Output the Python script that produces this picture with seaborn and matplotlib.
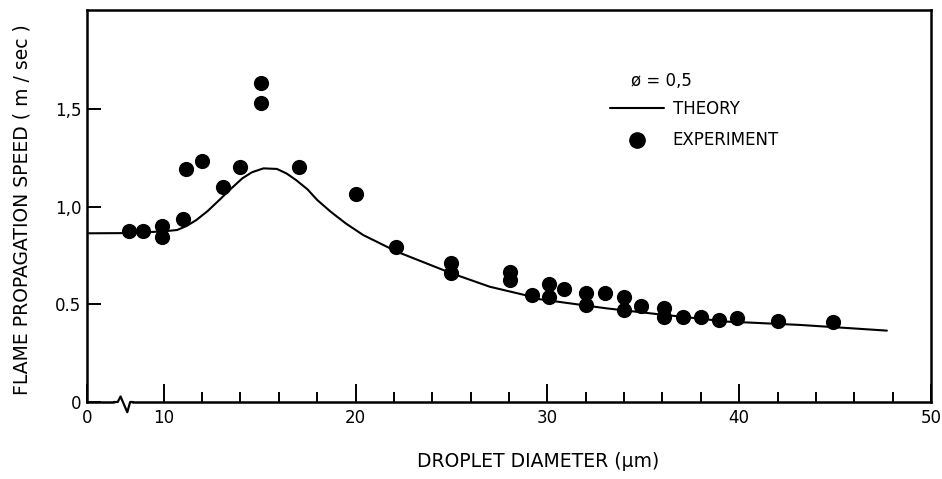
import matplotlib
matplotlib.use("Agg")
import matplotlib.pyplot as plt
import matplotlib.transforms as mtransforms
from matplotlib.lines import Line2D
import seaborn as sns
import pandas as pd

# Theory curve: flame propagation speed vs droplet diameter
theory_d = [6, 8, 9, 10, 10.7, 11.2, 11.7, 12.3, 12.9, 13.5, 14.1, 14.6, 15.2,
            15.9, 16.4, 16.9, 17.5, 18.0, 18.7, 19.5, 20.4, 22.15, 25.0, 27.0,
            28.8, 29.6, 33.1, 35.7, 39.4, 40.6, 43.2, 47.7]
theory_s = [0.865, 0.866, 0.87, 0.875, 0.882, 0.903, 0.933, 0.98, 1.036, 1.093,
            1.147, 1.178, 1.198, 1.195, 1.172, 1.138, 1.09, 1.036, 0.976, 0.915,
            0.856, 0.771, 0.66, 0.591, 0.549, 0.527, 0.48, 0.451, 0.412, 0.407,
            0.395, 0.366]

# Experimental measurements
exp_d = [8.2, 8.9, 9.9, 9.9, 11.0, 11.15, 12.0, 13.07, 14.0, 15.07, 15.07, 17.07,
         20.03, 22.1, 25.0, 25.0, 28.03, 28.03, 29.2, 30.07, 30.07, 30.85,
         32.04, 32.04, 33.0, 33.99, 33.99, 34.86, 36.1, 36.1, 37.09, 38.03,
         38.95, 39.9, 42.0, 44.9]
exp_s = [0.878, 0.878, 0.904, 0.848, 0.937, 1.195, 1.236, 1.104, 1.203, 1.634,
         1.532, 1.207, 1.065, 0.797, 0.711, 0.663, 0.668, 0.626, 0.549, 0.605,
         0.536, 0.578, 0.557, 0.497, 0.561, 0.537, 0.472, 0.492, 0.480, 0.437,
         0.434, 0.434, 0.421, 0.429, 0.417, 0.412]

x_ticks = [6, 10, 20, 30, 40, 50]
x_tick_labels = ["0", "10", "20", "30", "40", "50"]
x_minor = [12, 14, 16, 18, 22, 24, 26, 28, 32, 34, 36, 38, 42, 44, 46, 48]
y_ticks = [0, 0.5, 1.0, 1.5]
y_tick_labels = ["0", "0.5", "1,0", "1,5"]

sns.set_theme(style="ticks")
plt.rcParams["font.family"] = ["DejaVu Sans"]
plt.rcParams.update({"text.color": "black", "axes.labelcolor": "black",
                     "xtick.color": "black", "ytick.color": "black"})

fig = plt.figure(figsize=(9.42, 4.79), dpi=100)
ax = fig.add_axes([87 / 942, 1 - 402 / 479, 844 / 942, 392 / 479])

theory = pd.DataFrame({"d": theory_d, "s": theory_s})
exp = pd.DataFrame({"d": exp_d, "s": exp_s})

sns.lineplot(data=theory, x="d", y="s", ax=ax, color="black", linewidth=1.5,
             legend=False)
sns.scatterplot(data=exp, x="d", y="s", ax=ax, color="black", s=120,
                edgecolor="black", linewidth=0, legend=False, zorder=3)

ax.set_xlim(6, 50)
ax.set_ylim(0, 2.01)

ax.set_xticks(x_ticks)
ax.set_xticklabels(x_tick_labels)
ax.set_xticks(x_minor, minor=True)
ax.set_yticks(y_ticks)
ax.set_yticklabels(y_tick_labels)

ax.tick_params(axis="x", which="major", direction="in", length=13, width=1.4,
               labelsize=12, pad=5)
ax.tick_params(axis="x", which="minor", direction="in", length=7, width=1.4)
ax.tick_params(axis="y", which="major", direction="in", length=10, width=1.4,
               labelsize=12, pad=4)
ax.tick_params(axis="y", which="minor", left=False)

for sp in ax.spines.values():
    sp.set_linewidth(1.8)
    sp.set_color("black")

ax.set_xlabel("DROPLET DIAMETER (μm)", fontsize=13.5, labelpad=0)
ax.set_ylabel("FLAME PROPAGATION SPEED ( m / sec )", fontsize=13.5, labelpad=0)
ax.xaxis.set_label_coords(0.534, -0.128)
ax.yaxis.set_label_coords(-0.066, 0.49)

# Axis break mark on the diameter axis
blend = mtransforms.blended_transform_factory(ax.transData, ax.transAxes)
ax.plot([7.5, 8.3], [0, 0], color="white", linewidth=3, transform=blend,
        clip_on=False, zorder=4)
ax.plot([7.4, 7.6, 7.75, 8.1, 8.25, 8.4], [0, 0, 0.014, -0.026, 0, 0],
        color="black", linewidth=1.6, transform=blend, clip_on=False, zorder=5)

# Legend
handles = [
    Line2D([], [], color="black", linewidth=1.5),
    Line2D([], [], color="black", marker="o", linestyle="none", markersize=11),
]
leg = ax.legend(handles, ["THEORY", "EXPERIMENT"], loc="upper left",
                bbox_to_anchor=(0.62, 0.77), frameon=False, fontsize=12,
                handlelength=3.2, handletextpad=0.55, labelspacing=0.8,
                borderpad=0, borderaxespad=0)
ax.text(0.645, 0.819, "ø = 0,5", transform=ax.transAxes, fontsize=12,
        va="center", ha="left")

fig.savefig("out.png", dpi=100)
